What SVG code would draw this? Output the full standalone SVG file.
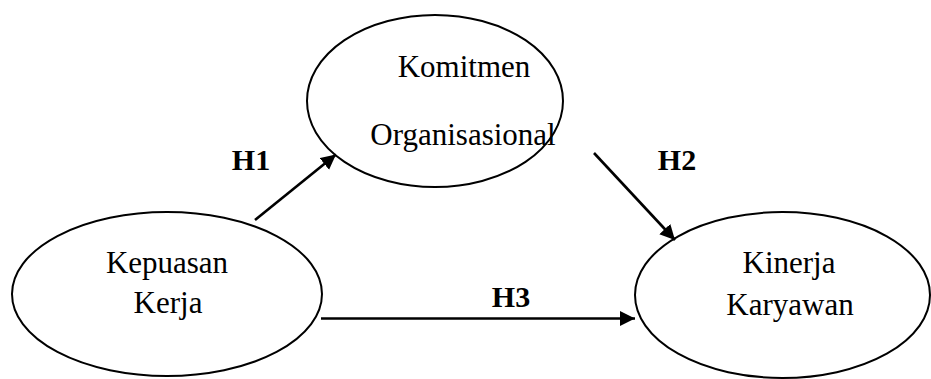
<svg xmlns="http://www.w3.org/2000/svg" width="931" height="379" viewBox="0 0 931 379">
<style>
.node ellipse{fill:#fff;stroke:#000;stroke-width:2}
.t{font-family:"Liberation Serif","Times New Roman",serif;font-size:31px;fill:#000;text-anchor:middle}
.h{font-family:"Liberation Serif","Times New Roman",serif;font-size:30px;font-weight:bold;fill:#000;text-anchor:middle}
.edges line{stroke:#000;stroke-width:2.6}
</style>
<defs>
<marker id="arr" markerUnits="userSpaceOnUse" markerWidth="16" markerHeight="16" refX="15" refY="7.5" orient="auto">
<path d="M0,0 L15,7.5 L0,15 z" fill="#000"/>
</marker>
</defs>
<rect width="931" height="379" fill="#fff"/>
<g id="komitmen" class="node">
<ellipse cx="435" cy="101" rx="128" ry="86"/>
<text class="t" x="464" y="77">Komitmen</text>
<text class="t" x="463" y="145">Organisasional</text>
</g>
<g id="kepuasan" class="node">
<ellipse cx="167" cy="294" rx="155" ry="82"/>
<text class="t" x="167" y="273">Kepuasan</text>
<text class="t" x="168" y="313">Kerja</text>
</g>
<g id="kinerja" class="node">
<ellipse cx="782.5" cy="295" rx="147.5" ry="83"/>
<text class="t" x="789" y="273">Kinerja</text>
<text class="t" x="790" y="315">Karyawan</text>
</g>
<g id="connectors" class="edges">
<line x1="255" y1="220" x2="336" y2="154.5" marker-end="url(#arr)"/>
<line x1="594" y1="153" x2="675" y2="240" marker-end="url(#arr)"/>
<line x1="321" y1="318.5" x2="635" y2="318.5" marker-end="url(#arr)"/>
</g>
<g id="labels">
<text class="h" x="251" y="170">H1</text>
<text class="h" x="677" y="170">H2</text>
<text class="h" x="511" y="307">H3</text>
</g>
</svg>
